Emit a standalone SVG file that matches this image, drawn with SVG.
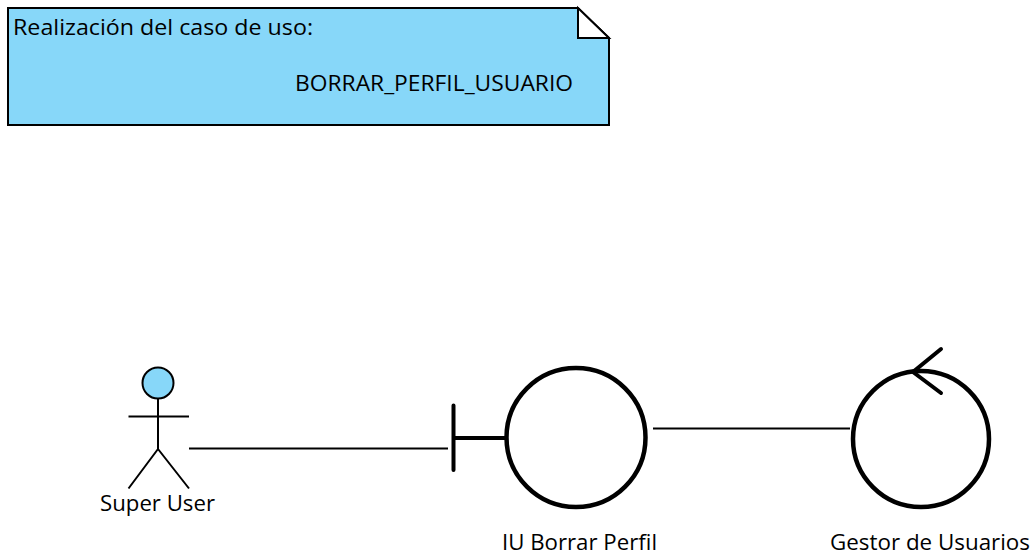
<svg xmlns="http://www.w3.org/2000/svg" width="1035" height="555" viewBox="0 0 1035 555">
<style>
text{font-family:"Open Sans","DejaVu Sans",sans-serif;font-size:21px;fill:#000}
.thin{fill:none;stroke:#000;stroke-width:2}
.thick{fill:none;stroke:#000;stroke-width:4;stroke-linecap:round}
</style>
<rect width="1035" height="555" fill="#fff"/>
<g id="note">
<path d="M8 8H578L609 38V125H8Z" fill="#87d7f9" stroke="#000" stroke-width="2"/>
<path d="M578 8V38H609Z" fill="#fff" stroke="#000" stroke-width="2"/>
<text x="13" y="35" textLength="300" lengthAdjust="spacingAndGlyphs">Realización del caso de uso:</text>
<text x="295" y="91" textLength="278" lengthAdjust="spacingAndGlyphs">BORRAR_PERFIL_USUARIO</text>
</g>
<g id="connectors">
<path class="thin" d="M189 448.500H448"/>
<path class="thin" d="M653 428.500H850"/>
</g>
<g id="actor">
<circle cx="158" cy="383" r="15.500" fill="#87d7f9" stroke="#000" stroke-width="2"/>
<path class="thin" d="M158 399V449M128.500 416.500H189M158 449L128.500 488.500M158 449L189 488.500"/>
<text x="100" y="511" textLength="115" lengthAdjust="spacingAndGlyphs">Super User</text>
</g>
<g id="boundary">
<circle cx="576" cy="437.500" r="69.500" fill="#fff" stroke="#000" stroke-width="4.500"/>
<path class="thick" d="M453.500 405.500V470M453.500 438H505"/>
<text x="502" y="550" textLength="155" lengthAdjust="spacingAndGlyphs">IU Borrar Perfil</text>
</g>
<g id="control">
<circle cx="921" cy="439" r="68" fill="#fff" stroke="#000" stroke-width="4.500"/>
<path class="thick" d="M941 349L913 372L941 393"/>
<text x="830" y="550" textLength="200" lengthAdjust="spacingAndGlyphs">Gestor de Usuarios</text>
</g>
</svg>
